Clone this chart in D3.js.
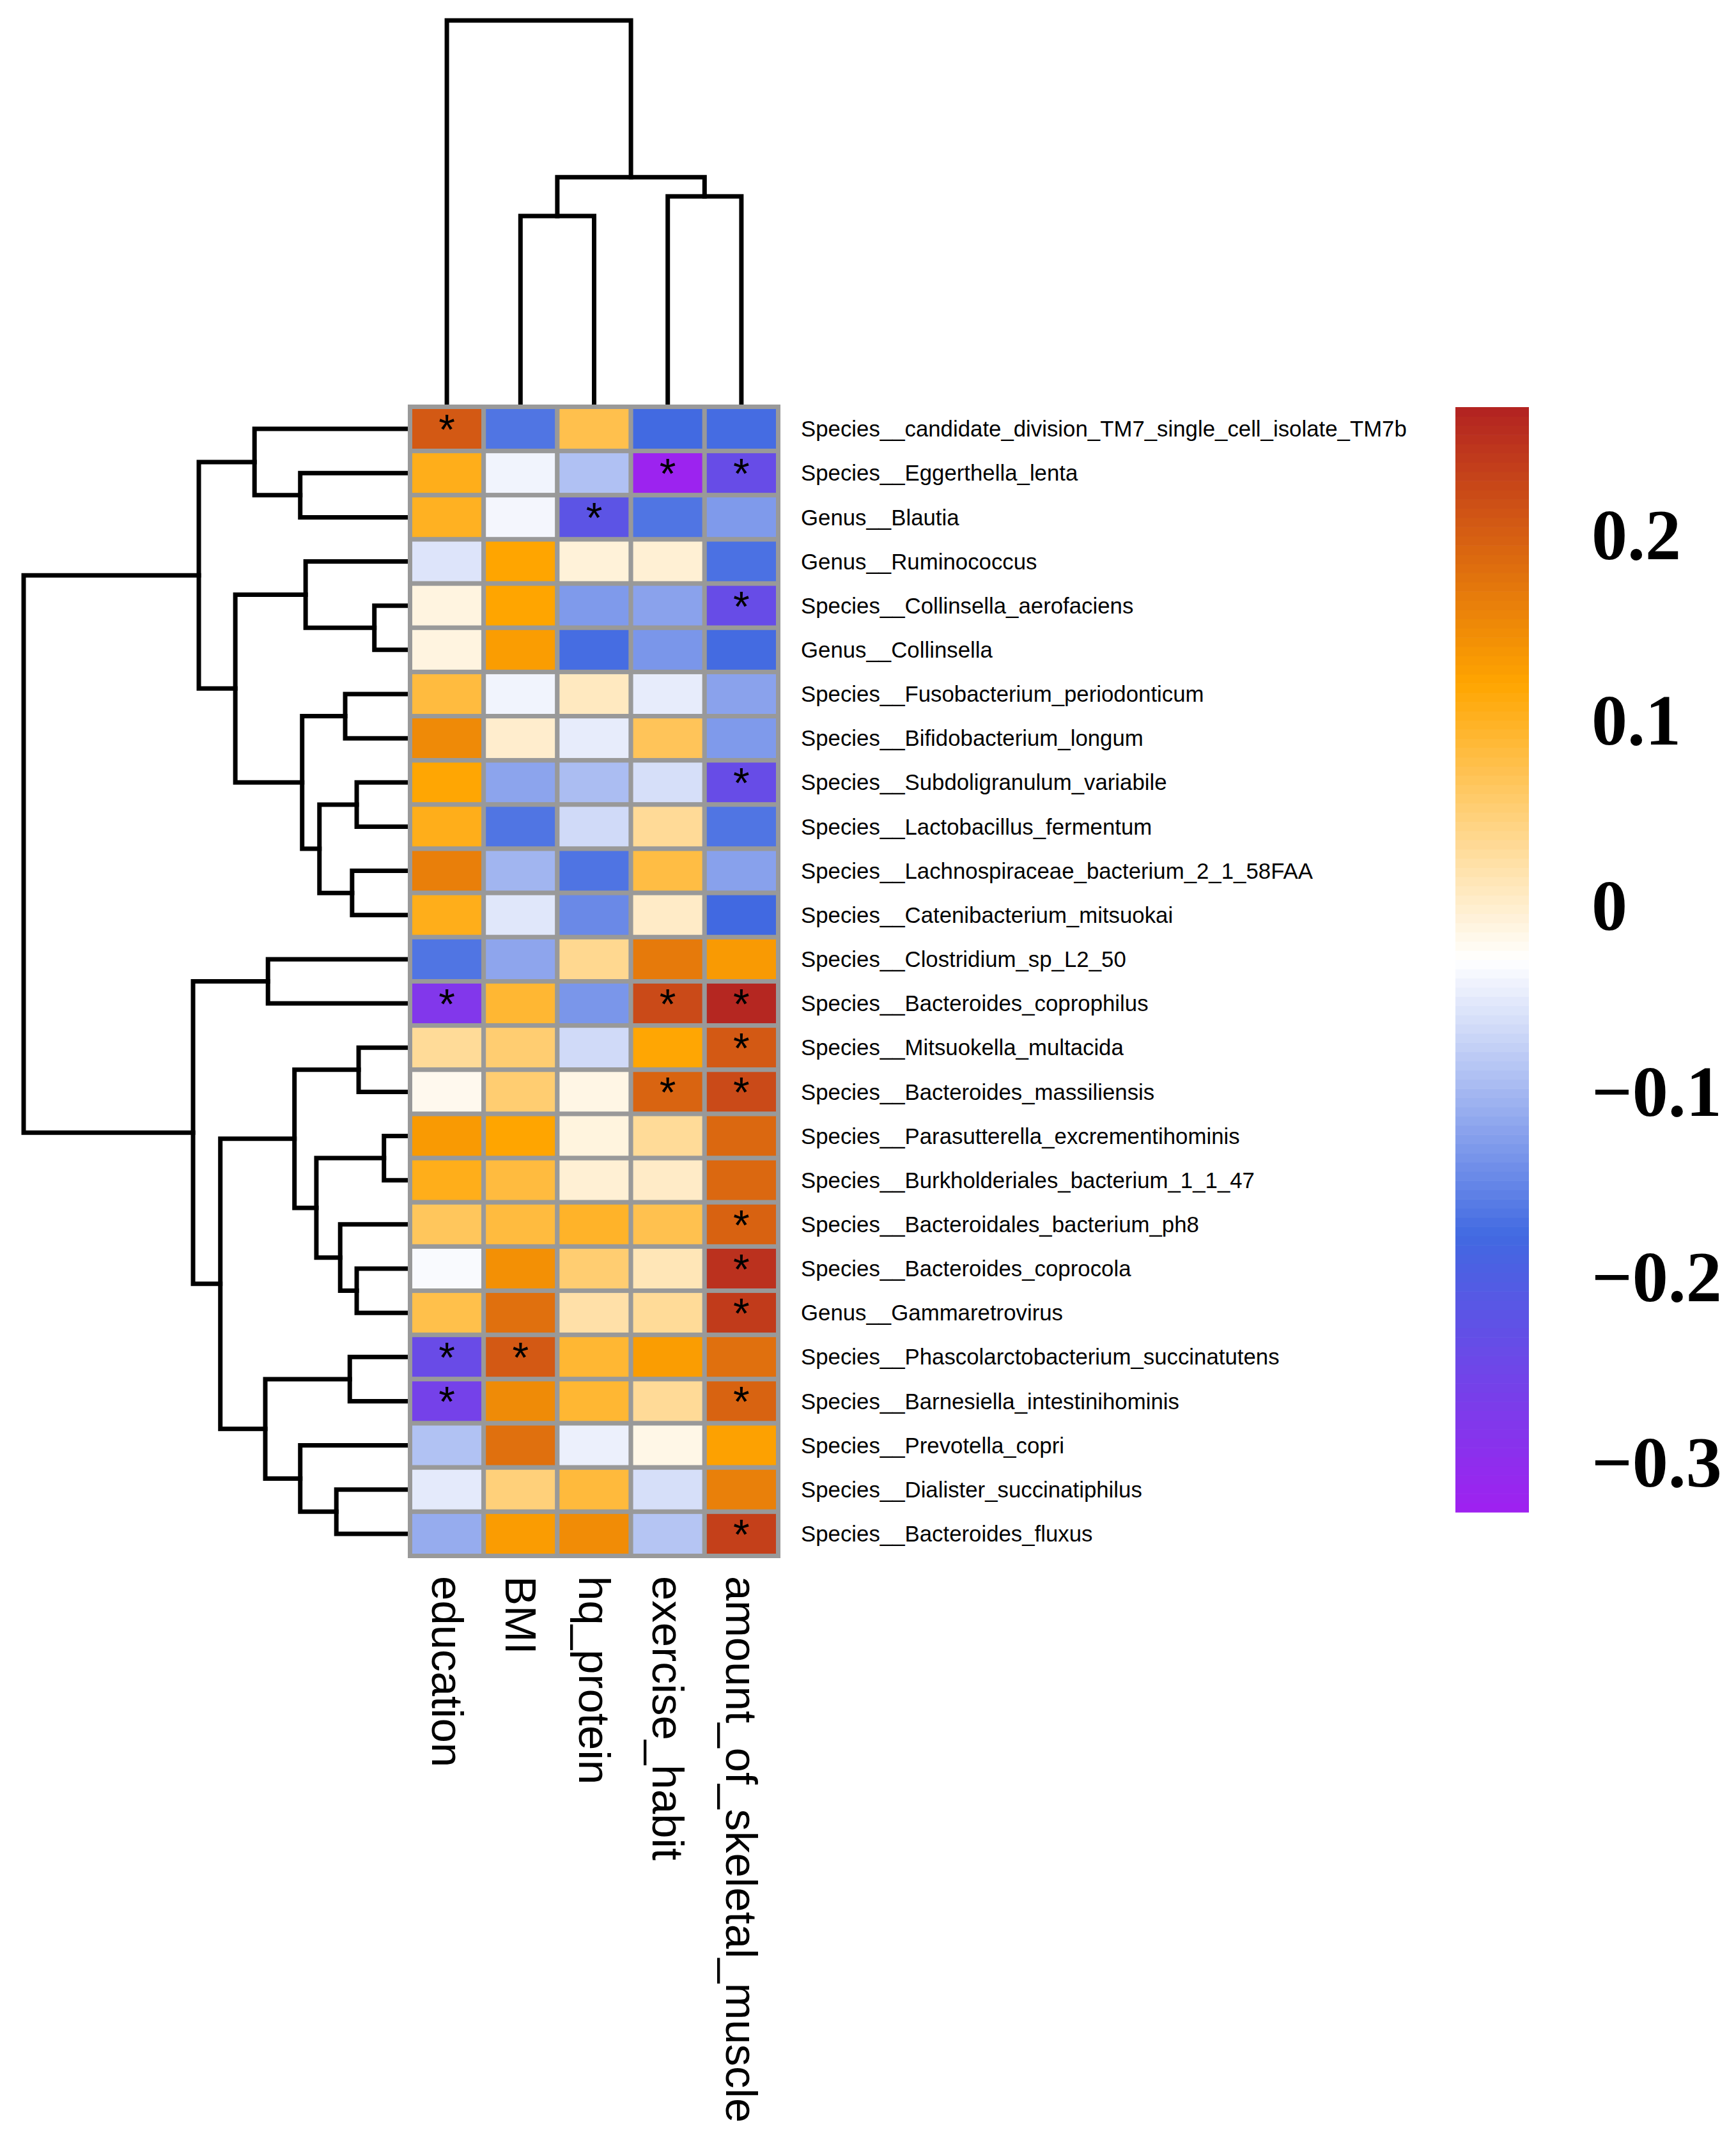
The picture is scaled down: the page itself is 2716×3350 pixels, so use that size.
<!DOCTYPE html>
<html>
<head>
<meta charset="utf-8">
<script src="https://cdn.jsdelivr.net/npm/d3@7"></script>
<style>
  body { margin: 0; background: #fff; }
</style>
</head>
<body>
<div id="heatmap"></div>
<script>
// row labels (taxa), top to bottom
let rowNames = [
  "Species__candidate_division_TM7_single_cell_isolate_TM7b",
  "Species__Eggerthella_lenta",
  "Genus__Blautia",
  "Genus__Ruminococcus",
  "Species__Collinsella_aerofaciens",
  "Genus__Collinsella",
  "Species__Fusobacterium_periodonticum",
  "Species__Bifidobacterium_longum",
  "Species__Subdoligranulum_variabile",
  "Species__Lactobacillus_fermentum",
  "Species__Lachnospiraceae_bacterium_2_1_58FAA",
  "Species__Catenibacterium_mitsuokai",
  "Species__Clostridium_sp_L2_50",
  "Species__Bacteroides_coprophilus",
  "Species__Mitsuokella_multacida",
  "Species__Bacteroides_massiliensis",
  "Species__Parasutterella_excrementihominis",
  "Species__Burkholderiales_bacterium_1_1_47",
  "Species__Bacteroidales_bacterium_ph8",
  "Species__Bacteroides_coprocola",
  "Genus__Gammaretrovirus",
  "Species__Phascolarctobacterium_succinatutens",
  "Species__Barnesiella_intestinihominis",
  "Species__Prevotella_copri",
  "Species__Dialister_succinatiphilus",
  "Species__Bacteroides_fluxus"
];

// column labels, left to right
let colNames = ["education", "BMI", "hq_protein", "exercise_habit", "amount_of_skeletal_muscle"];

// correlation per column (same row order as rowNames)
let education = [0.206, 0.105, 0.100, -0.056, -0.011, -0.011, 0.083, 0.151, 0.118, 0.105, 0.163, 0.105, -0.166,
                 -0.280, 0.031, -0.019, 0.132, 0.105, 0.066, -0.034, 0.076, -0.240, -0.260, -0.090, -0.050, -0.111];
let bmi = [-0.166, -0.040, -0.038, 0.120, 0.120, 0.129, -0.040, 0.000, -0.119, -0.166, -0.103, -0.053, -0.118,
           0.090, 0.054, 0.054, 0.120, 0.083, 0.083, 0.144, 0.180, 0.206, 0.150, 0.180, 0.049, 0.130];
let hqProtein = [0.075, -0.091, -0.220, -0.007, -0.129, -0.174, 0.008, -0.048, -0.095, -0.066, -0.167, -0.146, 0.036,
                 -0.133, -0.066, -0.014, -0.010, -0.004, 0.096, 0.054, 0.022, 0.090, 0.090, -0.044, 0.085, 0.148];
let exerciseHabit = [-0.177, -0.320, -0.166, -0.004, -0.121, -0.133, -0.048, 0.068, -0.061, 0.032, 0.080, 0.004, 0.169,
                     0.223, 0.118, 0.194, 0.031, 0.004, 0.074, 0.013, 0.031, 0.129, 0.032, -0.015, -0.061, -0.087];
let skeletalMuscle = [-0.175, -0.238, -0.129, -0.170, -0.238, -0.176, -0.121, -0.129, -0.238, -0.166, -0.122, -0.178, 0.132,
                      0.263, 0.206, 0.223, 0.189, 0.189, 0.196, 0.252, 0.240, 0.180, 0.195, 0.124, 0.162, 0.235];

// rows marked significant (*) in each column
let starEducation = [0, 13, 21, 22];
let starBmi = [21];
let starHqProtein = [2];
let starExercise = [1, 13, 15];
let starMuscle = [1, 4, 8, 13, 14, 15, 18, 19, 20, 22, 25];

// colour legend
let legendTicks = [0.2, 0.1, 0, -0.1, -0.2, -0.3];
let legendLabels = ["0.2", "0.1", "0", "\u22120.1", "\u22120.2", "\u22120.3"];
let colorMin = -0.327, colorMax = 0.269;

// dendrograms: [left, right, height], leaves are row/column indices
let rowTree = [
  [
    [0, [1, 2, 0.280], 0.399],
    [[3, [4, 5, 0.087], 0.266],
     [[6, 7, 0.163], [[8, 9, 0.133], [10, 11, 0.145], 0.230], 0.275], 0.449],
    0.544
  ],
  [
    [12, 13, 0.364],
    [[[14, 15, 0.128], [[16, 17, 0.062], [18, [19, 20, 0.133], 0.176], 0.238], 0.295],
     [[21, 22, 0.151], [23, [24, 25, 0.186], 0.280], 0.371], 0.488],
    0.559
  ],
  1.0
];
let colTree = [0, [[1, 2, 0.491], [3, 4, 0.542], 0.592], 1.0];

// build cell table
let columns = [education, bmi, hqProtein, exerciseHabit, skeletalMuscle];
let stars = [starEducation, starBmi, starHqProtein, starExercise, starMuscle];
let cells = [];
rowNames.forEach(function(r, i) {
  colNames.forEach(function(c, j) {
    cells.push({row: r, col: c, value: columns[j][i], star: stars[j].indexOf(i) >= 0});
  });
});

// canvas
let width = 2716;
let height = 3350;
let svg = d3.select("#heatmap")
  .append("svg")
  .attr("width", width)
  .attr("height", height)
  .style("background", "#fff");

// scales
let xScale = d3.scaleBand().domain(colNames).range([641.5, 1217.5]);
let yScale = d3.scaleBand().domain(rowNames).range([636.5, 2434.5]);
let color = d3.scaleLinear()
  .domain(d3.range(5).map(function(k) { return colorMin + k * (colorMax - colorMin) / 4; }))
  .range(["#a020f0", "#4169e1", "#ffffff", "#ffa500", "#b22222"]);

let rowH = d3.scaleLinear().domain([0, 1]).range([638, 37]);
let colH = d3.scaleLinear().domain([0, 1]).range([633, 32]);

// dendrograms
function drawTree(g, node, posOf, hScale, vertical) {
  if (typeof node === "number") return {p: posOf(node), h: 0};
  let a = drawTree(g, node[0], posOf, hScale, vertical);
  let b = drawTree(g, node[1], posOf, hScale, vertical);
  let pts = [[hScale(a.h), a.p], [hScale(node[2]), a.p], [hScale(node[2]), b.p], [hScale(b.h), b.p]];
  if (vertical) pts = pts.map(function(q) { return [q[1], q[0]]; });
  g.append("path")
    .attr("d", d3.line()(pts))
    .attr("fill", "none")
    .attr("stroke", "#000")
    .attr("stroke-width", 7)
    .attr("stroke-linecap", "square");
  return {p: (a.p + b.p) / 2, h: node[2]};
}

let dendro = svg.append("g");
drawTree(dendro, rowTree, function(i) { return yScale(rowNames[i]) + yScale.bandwidth() / 2; }, rowH, false);
drawTree(dendro, colTree, function(j) { return xScale(colNames[j]) + xScale.bandwidth() / 2; }, colH, true);

// heatmap cells
svg.append("g")
  .selectAll("rect")
  .data(cells)
  .enter()
  .append("rect")
  .attr("x", function(d) { return xScale(d.col); })
  .attr("y", function(d) { return yScale(d.row); })
  .attr("width", xScale.bandwidth())
  .attr("height", yScale.bandwidth())
  .attr("fill", function(d) { return color(d.value); })
  .attr("stroke", "#999999")
  .attr("stroke-width", 7);

// significance marks
svg.append("g")
  .selectAll("text")
  .data(cells.filter(function(d) { return d.star; }))
  .enter()
  .append("text")
  .attr("x", function(d) { return xScale(d.col) + xScale.bandwidth() / 2; })
  .attr("y", function(d) { return yScale(d.row) + yScale.bandwidth() / 2 + 24; })
  .attr("text-anchor", "middle")
  .attr("font-family", "Liberation Sans, Arial, sans-serif")
  .attr("font-size", "66px")
  .attr("fill", "#000")
  .text("*");

// row labels
svg.append("g")
  .selectAll("text")
  .data(rowNames)
  .enter()
  .append("text")
  .attr("x", 1253)
  .attr("y", function(d) { return yScale(d) + yScale.bandwidth() / 2; })
  .attr("dy", "0.35em")
  .attr("font-family", "Liberation Sans, Arial, sans-serif")
  .attr("font-size", "34.8px")
  .attr("fill", "#000")
  .text(function(d) { return d; });

// column labels (rotated)
svg.append("g")
  .selectAll("text")
  .data(colNames)
  .enter()
  .append("text")
  .attr("transform", function(d) {
    return "translate(" + (xScale(d) + xScale.bandwidth() / 2) + ",2466) rotate(90)";
  })
  .attr("dy", "0.34em")
  .attr("font-family", "Liberation Sans, Arial, sans-serif")
  .attr("font-size", "69px")
  .attr("fill", "#000")
  .text(function(d) { return d; });

// legend bar
let legendY = d3.scaleLinear().domain([colorMin, colorMax]).range([2366, 637]);
let nSlices = 120;
let slices = d3.range(nSlices).map(function(k) {
  return colorMin + (k + 0.5) * (colorMax - colorMin) / nSlices;
});
let sliceH = (2366 - 637) / nSlices;
svg.append("g")
  .selectAll("rect")
  .data(slices)
  .enter()
  .append("rect")
  .attr("x", 2277)
  .attr("y", function(d) { return legendY(d) - sliceH / 2; })
  .attr("width", 115)
  .attr("height", sliceH + 0.6)
  .attr("fill", function(d) { return color(d); });

svg.append("g")
  .selectAll("text")
  .data(legendTicks)
  .enter()
  .append("text")
  .attr("x", 2490)
  .attr("y", function(d) { return legendY(d); })
  .attr("dy", "0.34em")
  .attr("font-family", "Liberation Serif, Times New Roman, serif")
  .attr("font-weight", "bold")
  .attr("font-size", "112px")
  .attr("fill", "#000")
  .text(function(d, i) { return legendLabels[i]; });
</script>
</body>
</html>
